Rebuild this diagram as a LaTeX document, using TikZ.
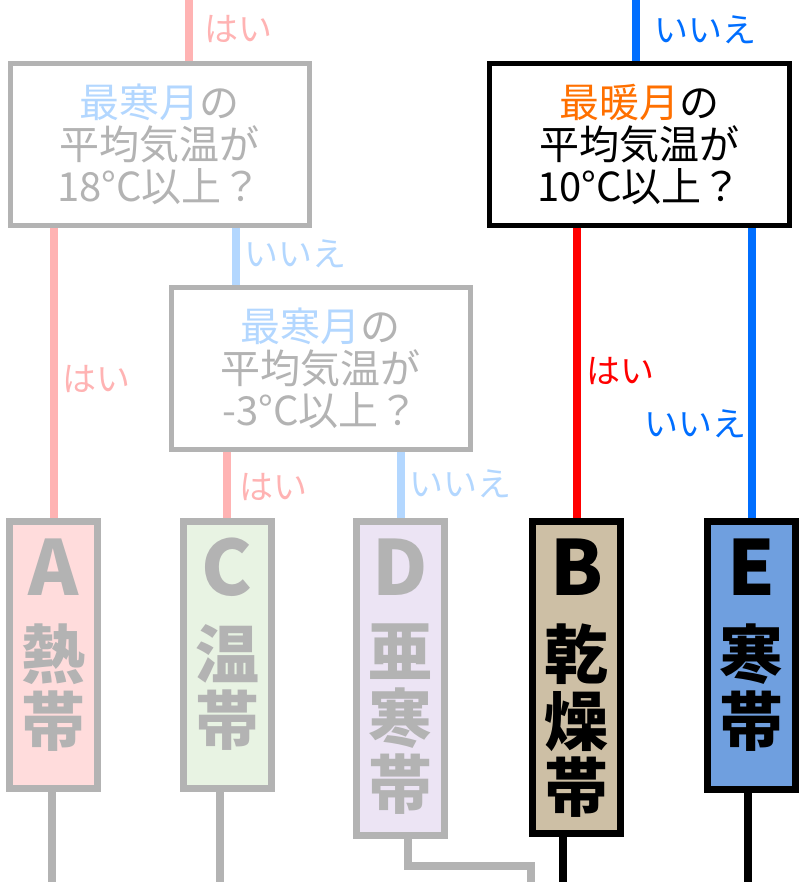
\documentclass[tikz,border=0pt]{standalone}
\usepackage{fontspec}
\setmainfont{Noto Sans CJK JP}[BoldFont={Noto Sans CJK JP Black}]
\usetikzlibrary{backgrounds}
\definecolor{lgray}{HTML}{B3B3B3}
\definecolor{lpink}{HTML}{FFB3B3}
\definecolor{lblue}{HTML}{B3D7FF}
\definecolor{vblue}{HTML}{006EFF}
\definecolor{orng}{HTML}{FF7000}
\definecolor{Afill}{HTML}{FFDCDC}
\definecolor{Cfill}{HTML}{E8F3E3}
\definecolor{Dfill}{HTML}{ECE4F4}
\definecolor{Bfill}{HTML}{CDBFA5}
\definecolor{Efill}{HTML}{6F9FDF}
\begin{document}
\begin{tikzpicture}[x=1pt,y=-1pt,
  qbox/.style={draw=#1,text=#1,line width=5pt,fill=white,minimum width=299pt,minimum height=162pt,inner sep=0pt,align=center,font=\fontsize{40}{42}\selectfont},
  zone/.style={draw=#1,line width=7pt,minimum width=88pt,inner sep=0pt},
  letter/.style={font=\fontsize{76}{76}\selectfont\bfseries,inner sep=0pt},
  kanji/.style={font=\fontsize{64}{66.5}\selectfont\bfseries,align=center,inner sep=0pt,anchor=north},
  link/.style={line width=8pt},
  ans/.style={font=\fontsize{34}{34}\selectfont,anchor=west,inner sep=0pt}]
\useasboundingbox (0,0) rectangle (800,882);
% questions
\node[qbox=lgray] (q1) at (159.5,144.5) {{\color{lblue}最寒月}の\\平均気温が\\18°C以上？};
\node[qbox=lgray] (q2) at (320.5,368) {{\color{lblue}最寒月}の\\平均気温が\\-3°C以上？};
\node[qbox=black,minimum width=300pt] (q3) at (639.5,144.5) {{\color{orng}最暖月}の\\平均気温が\\10°C以上？};
% climate zones
\node[zone=lgray,fill=Afill,minimum height=267pt] (A) at (53.5,655) {};
\node[zone=lgray,fill=Cfill,minimum height=267pt] (C) at (227,655) {};
\node[zone=lgray,fill=Dfill,minimum height=314pt] (D) at (400.5,678.5) {};
\node[zone=black,fill=Bfill,minimum height=312pt] (B) at (576.5,677.5) {};
\node[zone=black,fill=Efill,minimum height=268pt] (E) at (751.5,655.5) {};
\coordinate (lrow) at (0,567);
\coordinate (krow) at (0,624);
\foreach \z/\c in {A/lgray,C/lgray,D/lgray,B/black,E/black}
  \node[letter,text=\c] at (\z.north |- lrow) {\z};
\node[kanji,text=lgray] at (A.north |- krow) {熱\\帯};
\node[kanji,text=lgray] at (C.north |- krow) {温\\帯};
\node[kanji,text=lgray] at (D.north |- krow) {亜\\寒\\帯};
\node[kanji,text=black] at (B.north |- krow) {乾\\燥\\帯};
\node[kanji,text=black] at (E.north |- krow) {寒\\帯};
% free ends
\coordinate (t1) at (189,0);
\coordinate (t3) at (636,0);
\coordinate (m12) at (236,0);
\coordinate (Aend) at (52,882);
\coordinate (Cend) at (220,882);
\coordinate (Dbend) at (408,865.5);
\coordinate (Dend) at (531,882);
\coordinate (Bend) at (562.5,882);
\coordinate (Eend) at (748,882);
\begin{pgfonlayer}{background}
\draw[link,lpink] (t1) -- (t1 |- q1.north);
\draw[link,vblue] (t3) -- (t3 |- q3.north);
\draw[link,lpink] (q1.south -| A.north) -- (A.north);
\draw[link,lblue] (q1.south -| m12) -- (q2.north -| m12);
\draw[link,lpink] (q2.south -| C.north) -- (C.north);
\draw[link,lblue] (q2.south -| D.north) -- (D.north);
\draw[link,red] (q3.south -| B.north) -- (B.north);
\draw[link,vblue] (q3.south -| E.north) -- (E.north);
\draw[link,lgray] (A.south -| Aend) -- (Aend);
\draw[link,lgray] (C.south -| Cend) -- (Cend);
\draw[link,lgray] (D.south -| Dbend) -- (Dbend) -| (Dend);
\draw[link,black] (B.south -| Bend) -- (Bend);
\draw[link,black] (E.south -| Eend) -- (Eend);
\end{pgfonlayer}
% answers
\node[ans,text=lpink] (y1) at (204,29) {はい};
\node[ans,text=vblue] (n1) at (654,30) {いいえ};
\node[ans,text=lpink] (y2) at (62,379) {はい};
\node[ans,text=lblue] (n2) at (244,254) {いいえ};
\node[ans,text=lpink] (y3) at (239,487) {はい};
\node[ans,text=lblue] (n3) at (409,484) {いいえ};
\node[ans,text=red] (y4) at (586,371) {はい};
\node[ans,text=vblue] (n4) at (644,424) {いいえ};
\end{tikzpicture}
\end{document}
